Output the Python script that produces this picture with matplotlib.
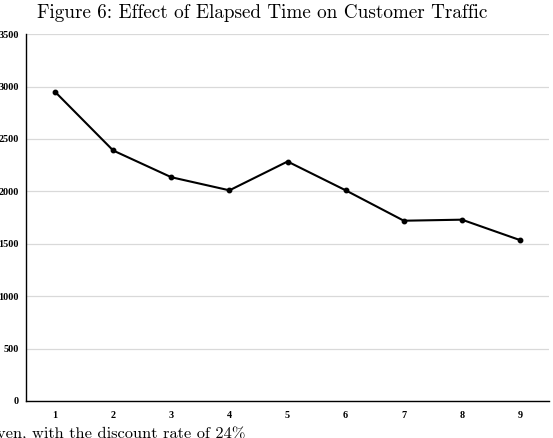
import matplotlib
matplotlib.use("Agg")
import matplotlib.pyplot as plt

# elapsed time periods and customer traffic
periods = ["1", "2", "3", "4", "5", "6", "7", "8", "9"]
traffic = [2950, 2390, 2135, 2010, 2285, 2010, 1720, 1730, 1535]
y_ticks = [0, 500, 1000, 1500, 2000, 2500, 3000, 3500]

fig = plt.figure(figsize=(5.53, 4.38), dpi=100)
ax = fig.add_axes([0.047, 0.0845, 0.946, 0.8375])

xs = list(range(1, len(periods) + 1))
ax.plot(xs, traffic, color="black", lw=1.5, marker="o", ms=3.2, zorder=3)

ax.set_xlim(0.5, 9.5)
ax.set_ylim(0, 3500)
ax.set_xticks(xs)
ax.set_xticklabels(periods)
ax.set_yticks(y_ticks)
ax.set_yticklabels([str(v) for v in y_ticks])
for lab in ax.get_xticklabels() + ax.get_yticklabels():
    lab.set_fontfamily("Liberation Serif")
    lab.set_fontweight("bold")
    lab.set_fontsize(7.3)
ax.tick_params(axis="x", length=0, pad=7)
ax.tick_params(axis="y", length=0, pad=5)

ax.yaxis.grid(True, color="#d9d9d9", lw=0.9)
ax.set_axisbelow(True)
for s in ["top", "right"]:
    ax.spines[s].set_visible(False)
ax.spines["left"].set_linewidth(1.0)
ax.spines["bottom"].set_linewidth(1.0)

fig.text(0.474, 0.99, "Figure 6: Effect of Elapsed Time on Customer Traffic",
         ha="center", va="top", fontsize=13.8, fontfamily="cmr10")
fig.text(-0.006, 0.027, "ven, with the discount rate of 24%",
         ha="left", va="top", fontsize=11.8, fontfamily="cmr10")

fig.savefig("out.png", dpi=100)
